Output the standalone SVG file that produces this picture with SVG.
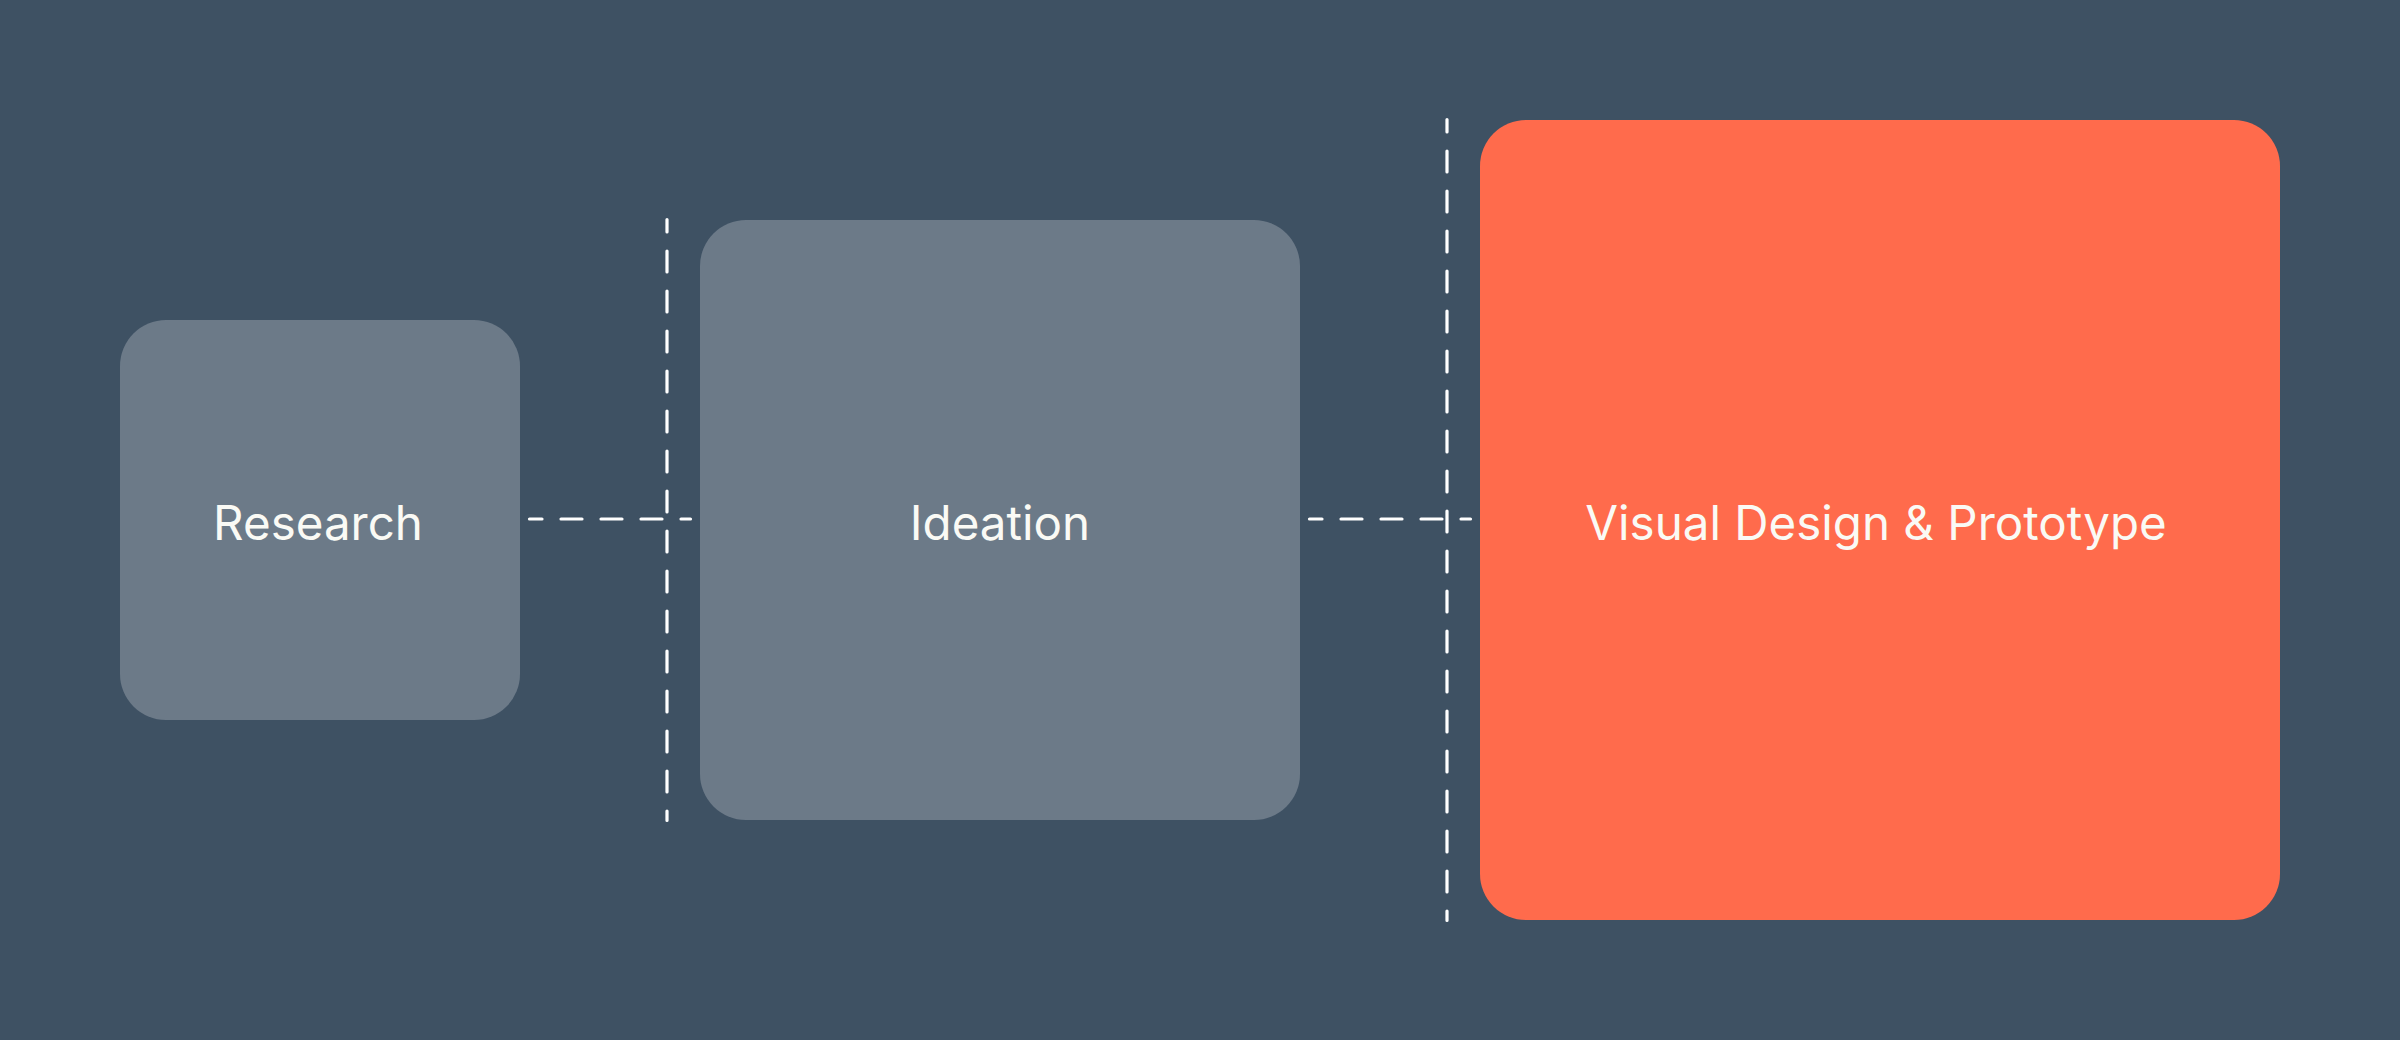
<svg xmlns="http://www.w3.org/2000/svg" width="2400" height="1040" viewBox="0 0 2400 1040">
  <style>
    .bg { fill: #3E5163; }
    .gray { fill: #6C7A88; }
    .accent { fill: #FF6B4C; }
    .label { font-family: Inter, "Open Sans", "Liberation Sans", sans-serif; font-size: 47.5px; fill: #FAFAF5; text-anchor: middle; }
    .dash { stroke: #FFFFFF; stroke-width: 3.2; stroke-linecap: round; stroke-dasharray: 21 19; stroke-dashoffset: 8.5; fill: none; }
  </style>
  <rect class="bg" x="0" y="0" width="2400" height="1040"/>
  <g id="connectors">
    <line class="dash" x1="529.5" y1="519" x2="690.5" y2="519"/>
    <line class="dash" x1="1309.5" y1="519" x2="1470.5" y2="519"/>
    <line class="dash" x1="667" y1="219.5" x2="667" y2="820.5"/>
    <line class="dash" x1="1447" y1="119.5" x2="1447" y2="920.5"/>
  </g>
  <g id="research">
    <rect class="gray" x="120" y="320" width="400" height="400" rx="46"/>
    <text class="label" x="318" y="540">Research</text>
  </g>
  <g id="ideation">
    <rect class="gray" x="700" y="220" width="600" height="600" rx="46"/>
    <text class="label" x="1000" y="540">Ideation</text>
  </g>
  <g id="visual-design">
    <rect class="accent" x="1480" y="120" width="800" height="800" rx="46"/>
    <text class="label" x="1876" y="540">Visual Design &amp; Prototype</text>
  </g>
</svg>
